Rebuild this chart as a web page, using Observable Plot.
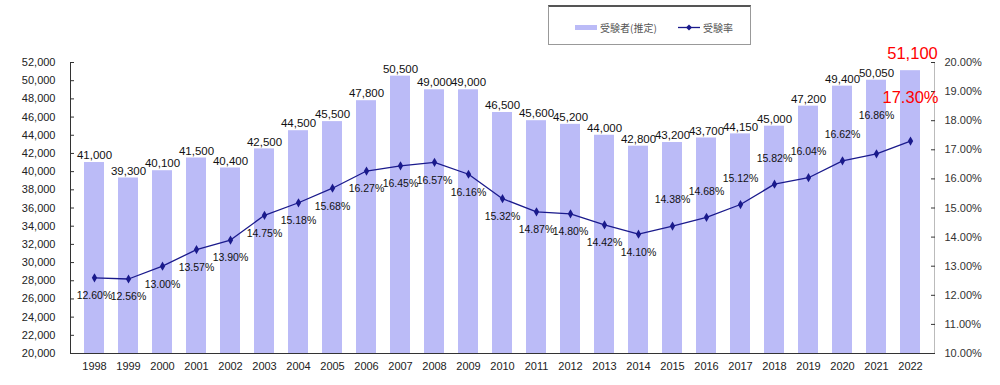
<!DOCTYPE html>
<html>
<head>
<meta charset="utf-8">
<script src="https://cdn.jsdelivr.net/npm/d3@7"></script>
<script src="https://cdn.jsdelivr.net/npm/@observablehq/plot@0.6"></script>
<style>
  html, body { margin: 0; padding: 0; background: #fff; }
  #wrap { position: relative; width: 1000px; height: 385px; font-family: "Liberation Sans", Arial, sans-serif; }
  #chart { position: absolute; left: 0; top: 0; }
  #legend { position: absolute; left: 548px; top: 5px; width: 203px; height: 40px; background: #fff;
    border: 1px solid #999; border-top: 2px solid #555; box-sizing: border-box;
    font-family: "Noto Sans CJK JP", sans-serif; font-size: 10px; color: #555; }
  .item { position: absolute; top: 13px; display: flex; align-items: center; }
  .sw-bar { width: 22px; height: 5px; background: #bbbbf7; margin-right: 3px; }
  .sw-line { width: 22px; height: 9px; margin-right: 3px; position: relative; }
</style>
</head>
<body>
<div id="wrap">
  <div id="chart"></div>
  <div id="legend">
    <div class="item" style="left:26px"><span class="sw-bar"></span><span>受験者(推定)</span></div>
    <div class="item" style="left:129px"><svg class="sw-line" width="22" height="9"><line x1="0" y1="4.5" x2="22" y2="4.5" stroke="#1a1a8c" stroke-width="1.3"/><path d="M11,1.5L14,4.5L11,7.5L8,4.5Z" fill="#1a1a8c"/></svg><span>受験率</span></div>
  </div>
</div>
<script>
const years = [1998,1999,2000,2001,2002,2003,2004,2005,2006,2007,2008,2009,2010,2011,2012,2013,2014,2015,2016,2017,2018,2019,2020,2021,2022];
const examinees = [41000,39300,40100,41500,40400,42500,44500,45500,47800,50500,49000,49000,46500,45600,45200,44000,42800,43200,43700,44150,45000,47200,49400,50050,51100];
const rates = [12.60,12.56,13.00,13.57,13.90,14.75,15.18,15.68,16.27,16.45,16.57,16.16,15.32,14.87,14.80,14.42,14.10,14.38,14.68,15.12,15.82,16.04,16.62,16.86,17.30];
const leftTicks = d3.range(20000, 52001, 2000);
const rightTicks = d3.range(10, 20.001, 1);

const yMin = 20000, yMax = 52000, rMin = 10, rMax = 20;
const rateToY = r => yMin + (r - rMin) * (yMax - yMin) / (rMax - rMin);
const yToRate = v => rMin + (v - yMin) * (rMax - rMin) / (yMax - yMin);

const data = years.map((y, i) => ({year: String(y), n: examinees[i], rate: rates[i], ry: rateToY(rates[i])}));
const last = data[data.length - 1];
const body = data.slice(0, -1);
const below = data.filter(d => +d.year <= 2014);
const above = data.filter(d => +d.year >= 2015 && +d.year <= 2020);
const high = data.filter(d => +d.year === 2021);

const navy = "#1a1a8c";
const fmt = d3.format(",");
const font = "Liberation Sans, Arial, sans-serif";
const pctSize = 10.5;

const chart = Plot.plot({
  width: 1000,
  height: 385,
  marginTop: 62,
  marginBottom: 32,
  marginLeft: 70,
  marginRight: 66,
  style: {fontFamily: font, fontSize: "11px", color: "#222", background: "transparent"},
  x: {type: "band", domain: years.map(String), paddingInner: 0.4, paddingOuter: 0.2, label: null},
  y: {domain: [yMin, yMax], label: null},
  marks: [
    Plot.barY(data, {x: "year", y1: yMin, y2: "n", fill: "#bbbbf7"}),
    Plot.frame({anchor: "left", stroke: "#333"}),
    Plot.frame({anchor: "right", stroke: "#bbb"}),
    Plot.frame({anchor: "bottom", stroke: "#333"}),
    Plot.axisY(leftTicks, {anchor: "left", tickSize: 0, tickPadding: 15, tickFormat: fmt, fill: "#222"}),
    Plot.axisY(leftTicks, {anchor: "left", tickSize: -4, fill: "none", stroke: "#333"}),
    Plot.axisY(rightTicks.map(rateToY), {anchor: "right", tickSize: 0, tickPadding: 10, tickFormat: v => yToRate(v).toFixed(2) + "%", fill: "#333"}),
    Plot.axisY(rightTicks.map(rateToY), {anchor: "right", tickSize: -4, fill: "none", stroke: "#333"}),
    Plot.axisX({anchor: "bottom", tickSize: 0, tickPadding: 9, fill: "#222"}),
    Plot.line(data, {x: "year", y: "ry", stroke: navy, strokeWidth: 1.3}),
    Plot.dot(data, {x: "year", y: "ry", symbol: "diamond", r: 2.8, fill: navy, stroke: "none"}),
    Plot.text(body, {x: "year", y: "n", text: d => fmt(d.n), dy: -7, fill: "#111", fontSize: 11.5}),
    Plot.text([last], {x: "year", y: "n", text: d => fmt(d.n), dy: -17, dx: 2, fill: "#ff0000", fontSize: 16.5}),
    Plot.text(below, {x: "year", y: "ry", text: d => d.rate.toFixed(2) + "%", dy: 18, fill: "#111", fontSize: pctSize}),
    Plot.text(above, {x: "year", y: "ry", text: d => d.rate.toFixed(2) + "%", dy: -26, fill: "#111", fontSize: pctSize}),
    Plot.text(high, {x: "year", y: "ry", text: d => d.rate.toFixed(2) + "%", dy: -38, fill: "#111", fontSize: pctSize}),
    Plot.text([last], {x: "year", y: "ry", text: d => d.rate.toFixed(2) + "%", dy: -43, fill: "#ff0000", fontSize: 16.5})
  ]
});
document.getElementById("chart").appendChild(chart);
</script>
</body>
</html>
